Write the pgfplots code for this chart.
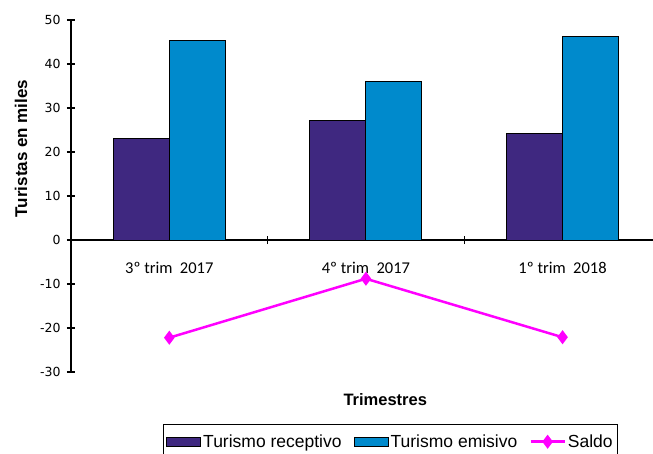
\documentclass[border=0pt]{standalone}
\usepackage{pgfplots}
\pgfplotsset{compat=1.18}
\usepackage{fontspec}
\setmainfont{Liberation Sans}
\newfontfamily\tickfont{DejaVu Sans}
\newfontfamily\catfont{Carlito}
\definecolor{recep}{RGB}{63,40,128}
\definecolor{emis}{RGB}{0,138,204}
\definecolor{saldo}{RGB}{255,0,255}
\begin{document}
\begin{tikzpicture}
\begin{axis}[
  name=ax,
  scale only axis,
  width=582pt, height=352pt,
  xmin=-0.5, xmax=2.46, ymin=-30, ymax=50,
  axis x line=middle, axis y line=left,
  x axis line style={-, line width=1.3pt},
  y axis line style={-, line width=1.3pt},
  tick align=center,
  xtick={0,1,2},
  xticklabels={3º trim\ \ 2017, 4º trim\ \ 2017, 1º trim\ \ 2018},
  major x tick style={draw=none},
  minor xtick={0.5,1.5},
  minor tick length=8pt,
  minor x tick style={black, line width=1.2pt},
  ytick={-30,-20,...,50},
  major tick length=8pt,
  y tick style={black, line width=1.2pt},
  xticklabel style={font=\catfont\fontsize{16.5}{18}\selectfont, anchor=center, yshift=-24pt},
  yticklabel style={font=\tickfont\fontsize{12.5}{14}\selectfont, xshift=-3pt},
  /pgf/number format/assume math mode=true,
  ylabel={\textbf{Turistas en miles}},
  ylabel style={font=\fontsize{17}{19}\selectfont, at={(axis description cs:-0.086,0.635)}, anchor=center, rotate=0},
  xlabel={\textbf{Trimestres}},
  xlabel style={font=\fontsize{16.5}{18}\selectfont, at={(axis description cs:0.54,-0.077)}, anchor=center},
  legend columns=3,
  legend style={at={(axis description cs:0.1576,-0.148)}, anchor=north west,
    draw=black, line width=1pt, font=\fontsize{17.5}{19}\selectfont,
    inner xsep=3pt, inner ysep=8pt,
    /tikz/every even column/.append style={column sep=10pt}},
  legend cell align=left,
  clip=false,
]
  \addplot[ybar, bar width=0.285, bar shift=-0.1425, fill=recep, draw=black, line width=1pt,
    legend image code/.code={\draw[fill=recep, draw=black, line width=1pt] (0pt,-4.5pt) rectangle (34pt,4.5pt);}]
    coordinates {(0,23.1) (1,27.2) (2,24.1)};
  \addlegendentry{Turismo receptivo}
  \addplot[ybar, bar width=0.285, bar shift=0.1425, fill=emis, draw=black, line width=1pt,
    legend image code/.code={\draw[fill=emis, draw=black, line width=1pt] (0pt,-4.5pt) rectangle (34pt,4.5pt);}]
    coordinates {(0,45.3) (1,36.0) (2,46.2)};
  \addlegendentry{Turismo emisivo}
  \addplot[saldo, line width=2.5pt, mark=diamond*, mark size=5pt, mark options={solid},
    legend image code/.code={\draw[saldo, line width=2.5pt, mark=diamond*, mark size=5pt, mark repeat=2, mark phase=2] plot coordinates {(0pt,0pt) (17pt,0pt) (34pt,0pt)};}]
    coordinates {(0,-22.2) (1,-8.8) (2,-22.1)};
  \addlegendentry{Saldo}
\end{axis}
\pgfresetboundingbox
\path ([shift={(-71pt,-81pt)}]ax.south west) rectangle ([shift={(582pt,372pt)}]ax.south west);
\end{tikzpicture}
\end{document}
